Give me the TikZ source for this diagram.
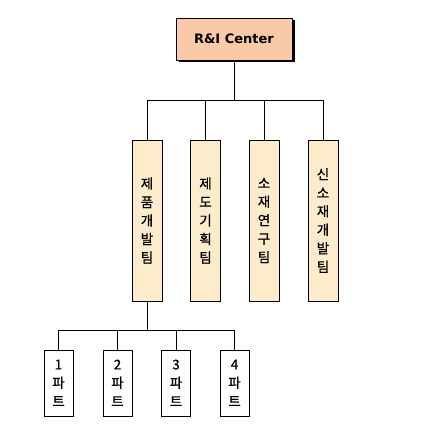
\documentclass[tikz,border=0pt]{standalone}
\usepackage{fontspec}
\newfontfamily\kr[FakeBold=0.6]{Noto Sans CJK KR}
\newfontfamily\latinbold{DejaVu Sans}
\definecolor{centerfill}{RGB}{250,201,168}
\definecolor{teamfill}{RGB}{253,236,203}
\begin{document}
\begin{tikzpicture}[x=1pt, y=-1pt,
  every node/.style={font={\kr\fontsize{13.5}{18.5}\selectfont}},
  topbox/.style={draw, thick, fill=centerfill, minimum width=116pt, minimum height=42pt, inner sep=0pt},
  teambox/.style={draw, thick, fill=teamfill, minimum width=30pt, minimum height=161pt, inner sep=0pt, align=center},
  partbox/.style={draw, thick, fill=white, minimum width=29pt, minimum height=66pt, inner sep=0pt, align=center},
  link/.style={thick}]
  \useasboundingbox (0,0) rectangle (435,435);
  % head office with drop shadow
  \fill[black] (178.5,20.5) rectangle (294.5,62.5);
  \node[topbox, font={\latinbold\bfseries\fontsize{13}{15}\selectfont}] (center) at (234,39) {R\&I Center};
  % teams
  \node[teambox] (team1) at (147,220.5) {제\\품\\개\\발\\팀};
  \node[teambox] (team2) at (205.5,220.5) {제\\도\\기\\획\\팀};
  \node[teambox] (team3) at (264,220.5) {소\\재\\연\\구\\팀};
  \node[teambox] (team4) at (323,220.5) {신\\소\\재\\개\\발\\팀};
  \coordinate (bus) at (234,100);
  \draw[link] (center.south) -- (bus);
  \foreach \i in {1,...,4}
    \draw[link] (team\i.north) |- (bus);
  % parts under the first team
  \coordinate (partbus) at (147,330);
  \draw[link] (team1.south) -- (partbus);
  \foreach \i/\x in {1/58.5, 2/117.5, 3/176, 4/234.5} {
    \node[partbox] (part\i) at (\x,383) {\i\\파\\트};
    \draw[link] (part\i.north) |- (partbus);
  }
\end{tikzpicture}
\end{document}
